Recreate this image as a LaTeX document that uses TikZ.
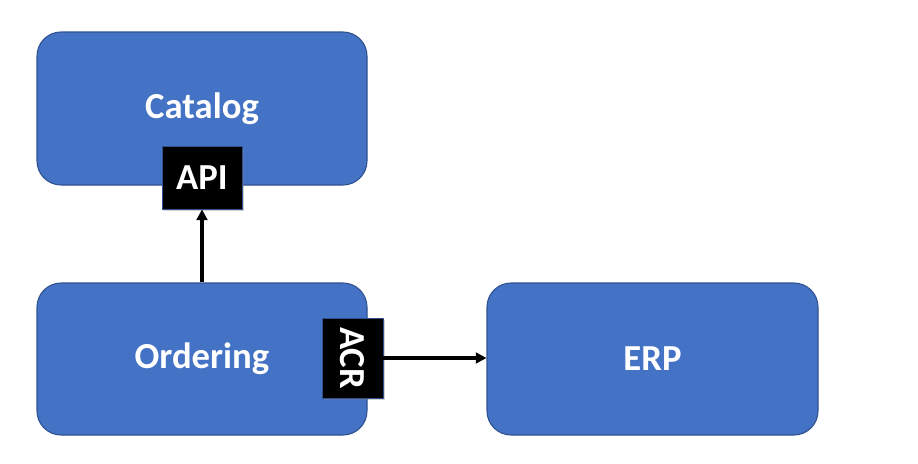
\documentclass[tikz,border=0pt]{standalone}
\usepackage{fontspec}
\setmainfont{Carlito}
\usetikzlibrary{arrows.meta,shadows}
\definecolor{boxblue}{HTML}{4472C4}
\definecolor{edgeblue}{HTML}{2F528F}
\begin{document}
\begin{tikzpicture}[x=0.75pt,y=-0.75pt,
  ctx/.style={draw=edgeblue,line width=0.8pt,fill=boxblue,rounded corners=18pt,inner sep=0pt,
    text=white,font=\fontsize{27.5}{32}\selectfont\bfseries},
  port/.style={draw=edgeblue,line width=0.6pt,fill=black,inner sep=0pt,text=white,
    font=\fontsize{27.5}{32}\selectfont\bfseries,
    drop shadow={shadow xshift=1.5pt,shadow yshift=-1.5pt,opacity=0.35}},
  conn/.style={line width=2.8pt,-{Triangle[length=8pt,width=8pt]}}]
\useasboundingbox (0,0) rectangle (918,464);
\fill[white] (0,0) rectangle (918,464);
\node[ctx,minimum width=330*0.75pt,minimum height=153*0.75pt] (catalog) at (202,108.5) {Catalog};
\node[ctx,minimum width=330*0.75pt,minimum height=152*0.75pt] (ordering) at (202,359) {Ordering};
\node[ctx,minimum width=331*0.75pt,minimum height=152*0.75pt] (erp) at (652.5,359) {ERP};
\node[port,minimum width=80*0.75pt,minimum height=63*0.75pt] (api) at (202,177.5) {API};
\node[port,minimum width=61*0.75pt,minimum height=80*0.75pt] (acr) at (352.5,358) {};
\node[text=white,font=\fontsize{27.5}{32}\selectfont\bfseries,rotate=-90] (acrtext) at (acr.center) {ACR};
\draw[conn] (ordering.north -| api.south) -- (api.south);
\draw[conn] (acr.east |- 0,358) -- (erp.west |- 0,358);
\end{tikzpicture}
\end{document}
